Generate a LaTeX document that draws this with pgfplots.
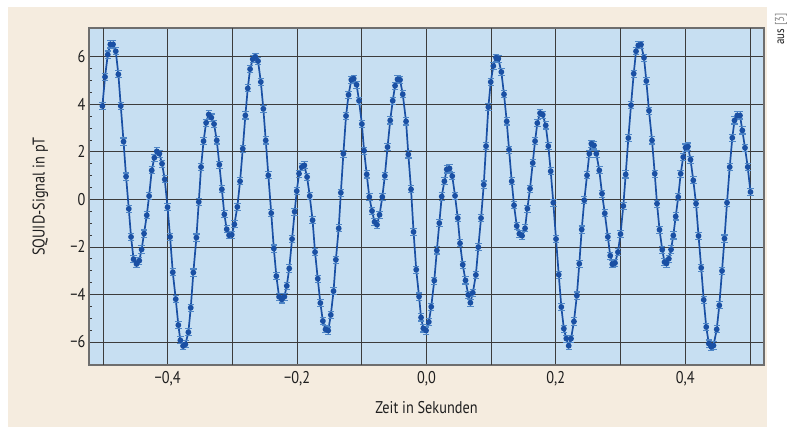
\documentclass[border=0pt]{standalone}
\usepackage{fontspec}
\setmainfont{PT Sans}[FakeStretch=0.84]
\usepackage{pgfplots}
\usepackage{pgfplotstable}
\pgfplotsset{compat=1.18}
\definecolor{beige}{HTML}{F5ECDF}
\definecolor{plotbg}{HTML}{C7DFF2}
\definecolor{sig}{HTML}{1A50A4}
\definecolor{errc}{HTML}{4F86C6}
\definecolor{gridc}{HTML}{3C3C3C}
\definecolor{framec}{HTML}{6E6E6E}
\definecolor{txt}{HTML}{1E1E1E}
\pgfplotstableread{
t v
-0.5009 3.93
-0.4968 5.15
-0.4926 6.09
-0.4886 6.52
-0.4844 6.52
-0.4802 6.23
-0.4762 5.26
-0.4725 3.93
-0.4682 2.43
-0.4643 0.96
-0.4601 -0.40
-0.4566 -1.58
-0.4527 -2.52
-0.4481 -2.72
-0.4439 -2.58
-0.4403 -2.11
-0.4365 -1.44
-0.4323 -0.67
-0.4287 0.14
-0.4246 1.22
-0.4206 1.75
-0.4168 2.02
-0.4128 1.92
-0.4087 1.50
-0.4045 0.84
-0.4002 -0.33
-0.3963 -1.58
-0.3921 -3.07
-0.3875 -4.20
-0.3835 -5.29
-0.3804 -5.93
-0.3762 -6.17
-0.3726 -6.10
-0.3680 -5.59
-0.3643 -4.56
-0.3603 -3.08
-0.3556 -1.61
-0.3519 -0.11
-0.3484 1.36
-0.3445 2.45
-0.3406 3.22
-0.3365 3.57
-0.3325 3.44
-0.3283 3.17
-0.3241 2.48
-0.3201 1.46
-0.3162 0.42
-0.3124 -0.63
-0.3087 -1.26
-0.3051 -1.51
-0.3009 -1.49
-0.2969 -1.05
-0.2923 -0.32
-0.2881 0.76
-0.2839 2.13
-0.2799 3.53
-0.2762 4.67
-0.2726 5.48
-0.2685 5.90
-0.2645 6.00
-0.2603 5.82
-0.2560 4.94
-0.2521 3.81
-0.2484 2.48
-0.2444 1.01
-0.2399 -0.58
-0.2359 -2.07
-0.2320 -3.23
-0.2278 -4.10
-0.2236 -4.21
-0.2196 -4.10
-0.2159 -3.64
-0.2121 -2.91
-0.2077 -1.67
-0.2037 -0.52
-0.2005 0.35
-0.1969 1.08
-0.1927 1.36
-0.1887 1.43
-0.1845 0.94
-0.1804 0.14
-0.1760 -0.88
-0.1722 -2.22
-0.1680 -3.34
-0.1640 -4.36
-0.1601 -5.12
-0.1560 -5.47
-0.1518 -5.52
-0.1478 -4.86
-0.1436 -3.86
-0.1400 -2.54
-0.1356 -1.22
-0.1323 0.28
-0.1284 1.92
-0.1243 3.51
-0.1204 4.40
-0.1161 5.03
-0.1124 5.08
-0.1080 4.82
-0.1042 4.15
-0.0998 3.17
-0.0964 2.05
-0.0923 1.05
-0.0883 0.10
-0.0841 -0.49
-0.0802 -0.95
-0.0764 -1.07
-0.0725 -0.65
-0.0682 0.10
-0.0643 0.99
-0.0601 2.20
-0.0560 3.32
-0.0521 4.15
-0.0485 4.78
-0.0447 5.05
-0.0408 5.03
-0.0366 4.42
-0.0315 3.28
-0.0280 1.89
-0.0238 0.42
-0.0199 -1.37
-0.0158 -2.96
-0.0114 -4.09
-0.0083 -4.97
-0.0048 -5.43
-0.0006 -5.52
0.0037 -5.16
0.0074 -4.52
0.0121 -3.42
0.0161 -2.15
0.0199 -1.00
0.0236 0.12
0.0277 0.76
0.0314 1.26
0.0357 1.30
0.0399 0.98
0.0442 0.15
0.0484 -0.79
0.0519 -1.85
0.0561 -2.75
0.0604 -3.41
0.0646 -4.02
0.0679 -4.35
0.0717 -3.93
0.0764 -3.18
0.0802 -2.01
0.0844 -0.79
0.0886 0.62
0.0921 2.24
0.0957 3.88
0.0994 4.94
0.1034 5.61
0.1076 5.96
0.1111 5.92
0.1158 5.36
0.1199 4.42
0.1241 3.28
0.1277 2.09
0.1318 0.76
0.1354 -0.25
0.1396 -1.12
0.1436 -1.45
0.1478 -1.53
0.1524 -1.22
0.1560 -0.39
0.1601 0.45
0.1643 1.53
0.1679 2.45
0.1714 3.21
0.1756 3.63
0.1798 3.56
0.1844 3.11
0.1884 2.24
0.1921 1.18
0.1961 -0.14
0.2003 -1.67
0.2045 -3.17
0.2085 -4.53
0.2124 -5.44
0.2162 -5.86
0.2199 -6.16
0.2235 -5.86
0.2280 -5.14
0.2325 -4.05
0.2363 -2.71
0.2400 -1.27
0.2440 -0.04
0.2482 1.01
0.2518 1.92
0.2549 2.34
0.2590 2.27
0.2626 1.92
0.2672 1.22
0.2714 0.24
0.2757 -0.59
0.2804 -1.58
0.2841 -2.37
0.2873 -2.73
0.2915 -2.68
0.2960 -2.22
0.3000 -1.46
0.3043 -0.28
0.3080 1.05
0.3121 2.58
0.3162 3.96
0.3204 5.29
0.3240 6.23
0.3275 6.48
0.3317 6.51
0.3363 5.96
0.3399 4.98
0.3440 3.73
0.3487 2.48
0.3529 1.08
0.3564 -0.18
0.3603 -1.28
0.3645 -2.12
0.3680 -2.64
0.3711 -2.70
0.3747 -2.50
0.3781 -2.11
0.3816 -1.52
0.3853 -0.72
0.3892 0.10
0.3930 1.08
0.3969 1.78
0.4005 2.18
0.4043 2.22
0.4082 1.67
0.4125 0.80
0.4167 -0.18
0.4206 -1.54
0.4247 -2.88
0.4286 -4.23
0.4325 -5.37
0.4365 -6.07
0.4402 -6.20
0.4437 -6.15
0.4487 -5.47
0.4527 -4.46
0.4569 -3.01
0.4607 -1.65
0.4646 -0.14
0.4688 1.36
0.4728 2.59
0.4762 3.32
0.4805 3.53
0.4847 3.53
0.4883 2.90
0.4924 2.17
0.4966 1.36
0.5009 0.31
}\sigdata
\begin{document}
\begin{tikzpicture}
\path[use as bounding box, fill=white] (0,0) rectangle (789pt,427pt);
\fill[beige] (8pt,0pt) rectangle (767pt,420pt);
\node[rotate=90, anchor=east, font=\fontsize{13}{15}\selectfont, text=txt, inner sep=0pt] at (781pt,414pt) {aus {\color{black!45}[3]}};
\begin{axis}[
  at={(89pt,62pt)}, anchor=south west,
  width=675pt, height=337pt, scale only axis,
  xmin=-0.5216, xmax=0.5218, ymin=-6.97, ymax=7.21,
  axis background/.style={fill=plotbg},
  xtick={-0.4,-0.2,0,0.2,0.4},
  xticklabels={{−0,4},{−0,2},{0,0},{0,2},{0,4}},
  extra x ticks={-0.5,-0.3,-0.1,0.1,0.3,0.5},
  extra x tick labels={},
  extra x tick style={grid=major},
  ytick={-6,-4,-2,0,2,4,6},
  yticklabels={−6,−4,−2,0,2,4,6},
  minor x tick num=1,
  minor y tick num=3,
  grid=major,
  major grid style={color=gridc, line width=0.7pt},
  tick pos=left,
  tick align=inside,
  major tick length=0pt,
  minor tick length=3pt,
  every tick/.style={color=gridc, line width=0.7pt},
  axis line style={color=framec, line width=1.1pt},
  tick label style={font=\fontsize{17}{19}\selectfont, text=txt},
  xlabel={Zeit in Sekunden},
  ylabel={SQUID-Signal in pT},
  every axis x label/.style={at={(axis description cs:0.5,-0.125)}, anchor=center, font=\fontsize{17}{19}\selectfont, text=txt},
  every axis y label/.style={at={(axis description cs:-0.072,0.5)}, rotate=90, anchor=center, font=\fontsize{17}{19}\selectfont, text=txt},
  xticklabel style={yshift=-3pt},
  clip=false,
]
\addplot[color=sig, line width=1.7pt, mark=*, mark size=2pt,
  mark options={fill=sig, draw=sig},
  error bars/.cd, y dir=both, y fixed=0.15,
  error bar style={color=errc, line width=1pt},
  error mark options={rotate=90, mark size=3.2pt, color=errc, line width=1.1pt}
] table[x=t, y=v] {\sigdata};
\end{axis}
\end{tikzpicture}
\end{document}
